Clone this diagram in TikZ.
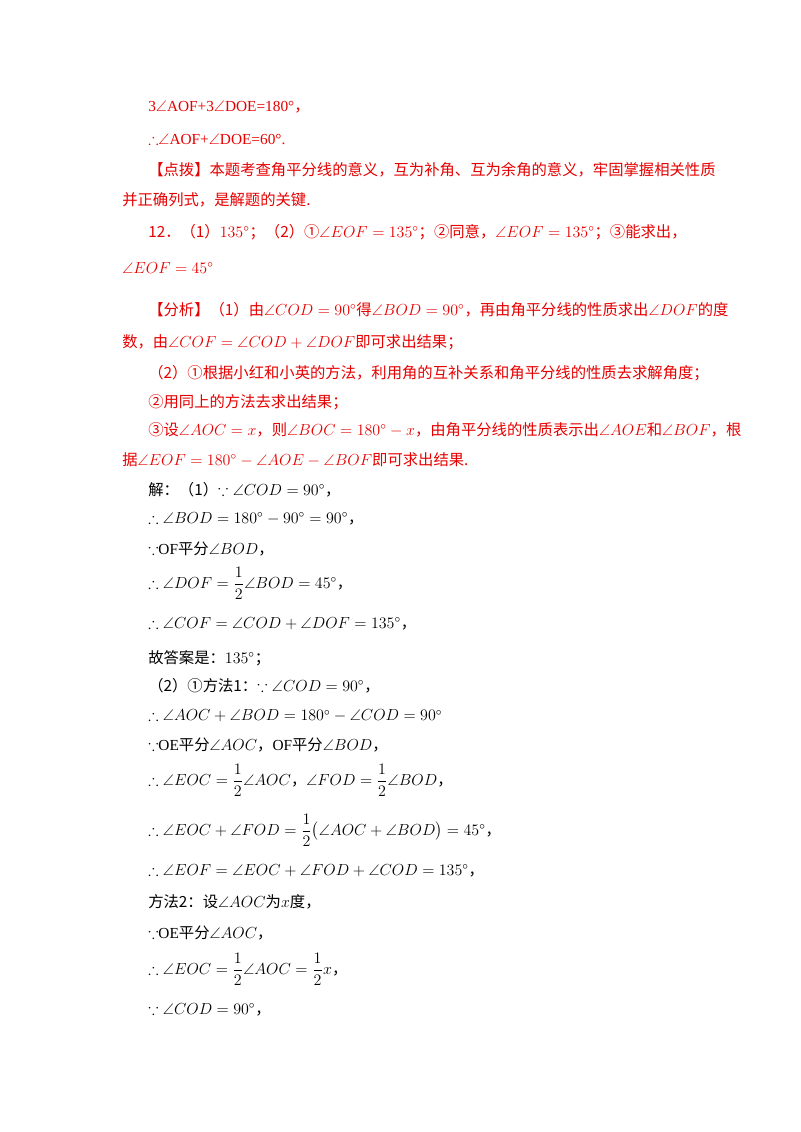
\documentclass[tikz,border=0pt]{standalone}
\usepackage{amsmath,amssymb}
\usepackage{fontspec}
\setmainfont{Noto Sans CJK SC}
\newfontfamily\lat{Liberation Serif}
\definecolor{rd}{RGB}{230,0,0}
\begin{document}
\begin{tikzpicture}[x=0.75pt,y=-0.75pt,
  t/.style={anchor=west,inner sep=0,font=\fontsize{11.5}{14}\selectfont},
  r/.style={t,text=rd}]
\useasboundingbox (0,0) rectangle (800,1132);
\newcommand\ang{\angle}
\node[r] (l1) at (148,107) {{\lat 3$\angle$AOF+3$\angle$DOE=180°}，};
\node[r] (l2) at (148,139) {$\therefore${\lat$\angle$AOF+$\angle$DOE=60°.}};
\node[r] (l3) at (148,170) {【点拨】本题考查角平分线的意义，互为补角、互为余角的意义，牢固掌握相关性质};
\node[r] (l4) at (122,200) {并正确列式，是解题的关键.};
\node[r] (l5) at (148,232) {12．（1）$135^\circ$；（2）①$\ang EOF=135^\circ$；②同意，$\ang EOF=135^\circ$；③能求出，};
\node[r] (l6) at (122,268) {$\ang EOF=45^\circ$};
\node[r] (l7) at (148,310) {【分析】（1）由$\ang COD=90^\circ$得$\ang BOD=90^\circ$，再由角平分线的性质求出$\ang DOF$的度};
\node[r] (l8) at (122,342) {数，由$\ang COF=\ang COD+\ang DOF$即可求出结果；};
\node[r] (l9) at (148,373) {（2）①根据小红和小英的方法，利用角的互补关系和角平分线的性质去求解角度；};
\node[r] (l10) at (148,402) {②用同上的方法去求出结果；};
\node[r] (l11) at (148,430) {③设$\ang AOC=x$，则$\ang BOC=180^\circ-x$，由角平分线的性质表示出$\ang AOE$和$\ang BOF$，根};
\node[r] (l12) at (122,460) {据$\ang EOF=180^\circ-\ang AOE-\ang BOF$即可求出结果.};
\node[t] (m1) at (148,490) {解：（1）$\because\ang COD=90^\circ$，};
\node[t] (m2) at (148,519) {$\therefore\ang BOD=180^\circ-90^\circ=90^\circ$，};
\node[t] (m3) at (148,549) {$\because${\lat OF}平分$\ang BOD$，};
\node[t] (m4) at (148,583) {$\therefore\ang DOF=\dfrac12\ang BOD=45^\circ$，};
\node[t] (m5) at (148,624) {$\therefore\ang COF=\ang COD+\ang DOF=135^\circ$，};
\node[t] (m6) at (148,658) {故答案是：$135^\circ$；};
\node[t] (m7) at (148,686) {（2）①方法1：$\because\ang COD=90^\circ$，};
\node[t] (m8) at (148,716) {$\therefore\ang AOC+\ang BOD=180^\circ-\ang COD=90^\circ$};
\node[t] (m9) at (148,745) {$\because${\lat OE}平分$\ang AOC$，{\lat OF}平分$\ang BOD$，};
\node[t] (m10) at (148,780) {$\therefore\ang EOC=\dfrac12\ang AOC$，$\ang FOD=\dfrac12\ang BOD$，};
\node[t] (m11) at (148,830) {$\therefore\ang EOC+\ang FOD=\dfrac12\big(\ang AOC+\ang BOD\big)=45^\circ$，};
\node[t] (m12) at (148,871) {$\therefore\ang EOF=\ang EOC+\ang FOD+\ang COD=135^\circ$，};
\node[t] (m13) at (148,902) {方法2：设$\ang AOC$为$x$度，};
\node[t] (m14) at (148,933) {$\because${\lat OE}平分$\ang AOC$，};
\node[t] (m15) at (148,969) {$\therefore\ang EOC=\dfrac12\ang AOC=\dfrac12x$，};
\node[t] (m16) at (148,1010) {$\because\ang COD=90^\circ$，};
\end{tikzpicture}
\end{document}
